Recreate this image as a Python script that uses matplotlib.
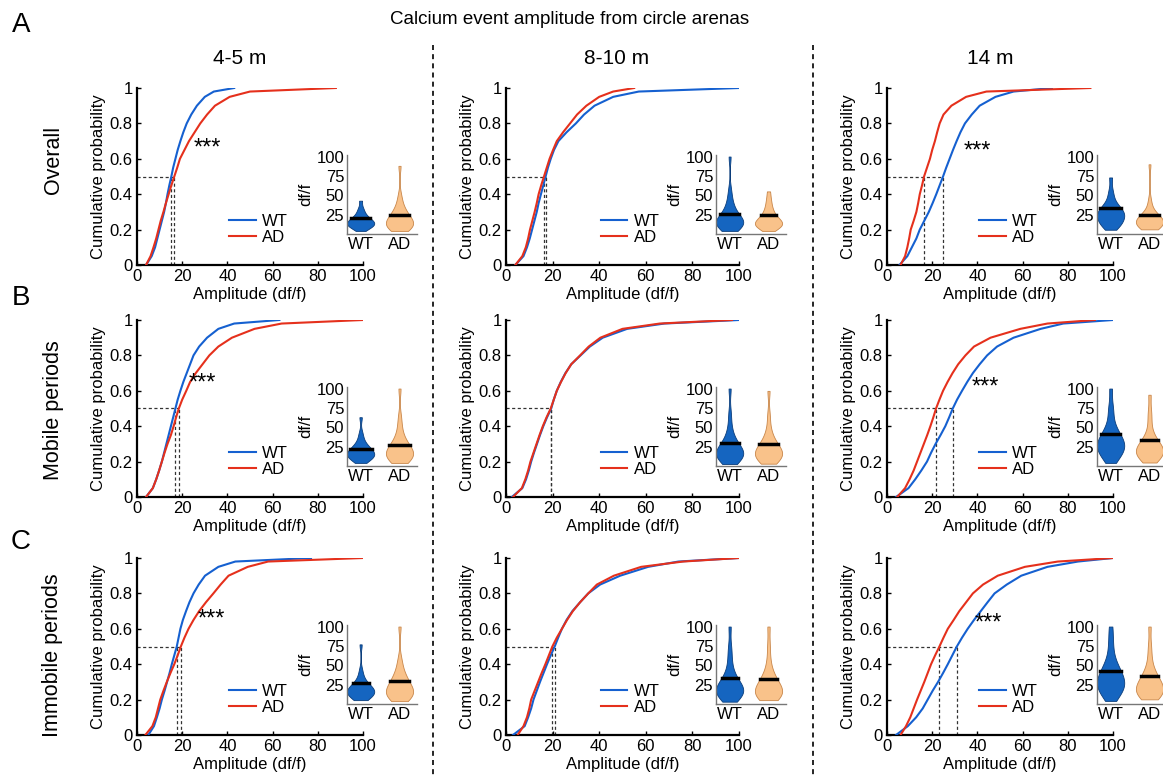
import numpy as np
import matplotlib.pyplot as plt
from matplotlib.lines import Line2D

plt.rcParams['font.family'] = ['Liberation Sans', 'DejaVu Sans']

W, H = 1163, 775

# cumulative probability levels at which the amplitudes were read
probs = [0, 0.05, 0.1, 0.15, 0.2, 0.25, 0.3, 0.35, 0.4, 0.45, 0.5,
         0.55, 0.6, 0.65, 0.7, 0.75, 0.8, 0.85, 0.9, 0.95, 0.98, 1.0]

ages = ['4-5 m', '8-10 m', '14 m']
conditions = ['Overall', 'Mobile periods', 'Immobile periods']
panel_letters = ['A', 'B', 'C']
groups = ['WT', 'AD']

# amplitude (df/f) quantiles, one list per age
overall_wt = [
    [4, 6.5, 8, 9, 10, 11, 12, 12.8, 13.5, 14.3, 15.2, 16, 17, 18, 19.2, 20.5, 22, 24, 26.5, 30, 34, 43],
    [4, 7.5, 9, 10.2, 11.2, 12.2, 13.2, 14, 15, 16, 17, 18, 19.2, 20.6, 22.5, 26, 30, 33.5, 38, 46, 57, 100],
    [5.5, 9, 11, 13, 14.5, 16.5, 18.5, 20.2, 21.8, 23.3, 24.8, 26.2, 27.7, 29.2, 30.8, 32.5, 34.5, 37.5, 41, 48, 56, 73],
]
overall_ad = [
    [4, 6, 7.3, 8.5, 9.5, 10.5, 11.7, 12.8, 14, 15.2, 16.5, 17.8, 19, 21, 23, 25.5, 28, 31, 34.5, 41, 50, 88],
    [4, 7, 8.5, 9.5, 10.3, 11.3, 12.3, 13.2, 14, 15.1, 16.3, 17.5, 18.7, 20.2, 21.8, 24.5, 27.5, 30.5, 34.5, 40, 46, 55],
    [6, 8, 9, 9.8, 10.5, 11.8, 13, 13.8, 14.5, 15.5, 16.4, 17.7, 19, 20, 21.2, 22.2, 23.3, 25, 28.5, 35, 44, 90],
]
mobile_wt = [
    [4, 7, 8.5, 9.8, 11, 12, 13, 14, 15, 16, 17, 18, 19.2, 20.5, 22, 23.5, 25, 27.5, 31, 36, 43, 63],
    [2.5, 7, 8.6, 9.8, 10.8, 12, 13.3, 14.6, 16, 17.6, 19.4, 20.5, 21.8, 23.5, 25.5, 28, 32, 36, 41.5, 52, 68, 100],
    [4, 9.5, 12.5, 15.2, 17.7, 19.5, 21.5, 23.7, 25.8, 27.5, 29.1, 31, 33.2, 35.5, 38, 41, 44.3, 48.7, 56, 68, 78, 100],
]
mobile_ad = [
    [4, 7, 8.5, 9.8, 11, 12.2, 13.5, 15, 16.2, 17.3, 18.5, 20, 21.8, 23.5, 26, 29, 32, 36, 42, 52, 64, 100],
    [3, 6.8, 8.3, 9.5, 10.5, 11.8, 13.1, 14.4, 15.8, 17.4, 19.2, 20.5, 21.8, 23.6, 25.6, 28, 31.8, 35.5, 40.5, 50, 66, 97],
    [4.5, 8, 10, 11.8, 13.3, 14.8, 16.3, 17.8, 19.2, 20.5, 21.7, 23.2, 24.8, 26.8, 29, 31.5, 34.7, 38.5, 45.8, 59, 71, 92],
]
immobile_wt = [
    [5, 7.5, 8.8, 10, 11, 12.2, 13.3, 14.4, 15.4, 16.5, 17.6, 18.4, 19.2, 20.3, 21.7, 23.2, 25, 27.3, 30.1, 36, 43.5, 77],
    [3, 8, 9.5, 10.8, 11.8, 13.2, 14.6, 16.1, 17.6, 19.2, 20.9, 22.4, 24, 26, 28.5, 31.8, 35.3, 40.4, 49, 61, 74, 100],
    [4, 9.2, 12.9, 15.8, 18, 20.2, 22.6, 24.8, 26.9, 28.9, 30.9, 33.2, 35.7, 38.5, 41.5, 44.5, 47.6, 53, 59.4, 71, 84.5, 100],
]
immobile_ad = [
    [3.7, 6.8, 8.3, 9.3, 10.3, 11.7, 13.2, 14.8, 16.5, 18, 19.4, 21, 22.8, 25, 27.5, 30.5, 33.8, 37, 40.5, 49, 58, 100],
    [5, 7.5, 9, 10, 10.8, 12.3, 13.8, 15.3, 16.9, 18.4, 19.9, 21.8, 24, 26.2, 28.7, 31.8, 35.3, 39, 46.3, 58, 76, 100],
    [6, 8.4, 10.3, 11.8, 13.3, 14.9, 16.5, 18, 19.5, 21.3, 23.2, 25, 26.9, 29.5, 32, 35, 38, 42.5, 49, 61, 75.6, 100],
]

# black bar in the violin insets (rows: condition, cols: age)
violin_bar_wt = [[21, 26, 33], [22, 30, 41], [27, 34, 42.5]]
violin_bar_ad = [[25, 25, 25], [27, 28.6, 34], [30, 32, 36]]

# significance marks (None = not significant)
significance = [['***', None, '***'], ['***', None, '***'], ['***', None, '***']]

prob_ticks = [0, 0.2, 0.4, 0.6, 0.8, 1]
prob_tick_labels = ['0', '0.2', '0.4', '0.6', '0.8', '1']
amp_ticks = [0, 20, 40, 60, 80, 100]
violin_ticks = [25, 50, 75, 100]

WT_LINE = '#1560d0'
AD_LINE = '#e5301c'
WT_FILL, WT_EDGE = '#1565c0', '#0b3d7a'
AD_FILL, AD_EDGE = '#f9c28a', '#c8864a'

# layout in pixels
col_x0 = [137, 506, 887]
col_w = [226, 233, 226]
row_top = [88, 320, 558]
row_h = 177
star_pos = [[(25, 0.66), None, (34, 0.64)],
            [(23, 0.64), None, (37.5, 0.62)],
            [(27, 0.655), None, (39, 0.63)]]

data_wt = [overall_wt, mobile_wt, immobile_wt]
data_ad = [overall_ad, mobile_ad, immobile_ad]


def px_axes(fig, left, top, width, height):
    return fig.add_axes([left / W, 1 - (top + height) / H, width / W, height / H])


fig = plt.figure(figsize=(W / 100, H / 100), dpi=100)

for r in range(3):
    for c in range(3):
        wt = np.array(data_wt[r][c])
        ad = np.array(data_ad[r][c])
        ax = px_axes(fig, col_x0[c], row_top[r], col_w[c], row_h)
        ax.plot(wt, probs, color=WT_LINE, lw=1.5, label='WT', zorder=3)
        ax.plot(ad, probs, color=AD_LINE, lw=1.5, label='AD', zorder=3)

        med_wt = np.interp(0.5, probs, wt)
        med_ad = np.interp(0.5, probs, ad)
        dash = dict(color='#333333', lw=0.9, ls=(0, (2.5, 2)), zorder=2)
        ax.plot([0, max(med_wt, med_ad)], [0.5, 0.5], **dash)
        ax.plot([med_wt, med_wt], [0, 0.5], **dash)
        ax.plot([med_ad, med_ad], [0, 0.5], **dash)

        ax.set_xlim(0, 100)
        ax.set_ylim(0, 1)
        ax.set_xticks(amp_ticks)
        ax.set_yticks(prob_ticks, prob_tick_labels)
        for s in ['top', 'right']:
            ax.spines[s].set_visible(False)
        for s in ['left', 'bottom']:
            ax.spines[s].set_linewidth(1.6)
        ax.tick_params(direction='in', length=3, width=1, labelsize=12, pad=3)
        ax.set_xlabel('Amplitude (df/f)', fontsize=12, labelpad=2)
        ax.set_ylabel('Cumulative probability', fontsize=12, labelpad=3)
        ax.legend(loc='center left', bbox_to_anchor=(0.37, 0.2), frameon=False,
                  fontsize=12, handlelength=1.6, handletextpad=0.4,
                  labelspacing=0.05, borderpad=0)
        if significance[r][c]:
            sx, sy = star_pos[r][c]
            ax.text(sx, sy, significance[r][c], fontsize=17, ha='left', va='center')

        # violin inset
        ins = px_axes(fig, col_x0[c] + 210, row_top[r] + 67, 70, 79)
        ins.patch.set_visible(False)
        vp = ins.violinplot([wt, ad], positions=[1, 2], widths=0.7, showextrema=False,
                            bw_method=0.42)
        bars = [violin_bar_wt[r][c], violin_bar_ad[r][c]]
        for pos, body, fc, ec, m in zip([1, 2], vp['bodies'], [WT_FILL, AD_FILL],
                                        [WT_EDGE, AD_EDGE], bars):
            body.set_facecolor(fc)
            body.set_edgecolor(ec)
            body.set_linewidth(0.6)
            body.set_alpha(1)
            v = body.get_paths()[0].vertices
            right = v[v[:, 0] > pos]
            order = np.argsort(right[:, 1])
            hw = np.interp(m, right[order, 1], right[order, 0]) - pos
            ins.plot([pos - hw, pos + hw], [m, m], color='black', lw=2.5, zorder=4)
        ins.set_xlim(0.65, 2.45)
        ins.set_ylim(0, 102)
        ins.set_yticks(violin_ticks)
        ins.set_xticks([1, 2], groups)
        ins.tick_params(length=0, labelsize=12, pad=2)
        for s in ['top', 'right']:
            ins.spines[s].set_visible(False)
        for s in ['left', 'bottom']:
            ins.spines[s].set_color('#777777')
            ins.spines[s].set_linewidth(1)
        ins.set_ylabel('df/f', fontsize=12, labelpad=2)

# column and row headings
col_centers = [240, 617, 990]
for c in range(3):
    fig.text(col_centers[c] / W, 1 - 58 / H, ages[c], fontsize=15, ha='center', va='center')
row_centers = [160, 410, 655]
for r in range(3):
    fig.text(53 / W, 1 - row_centers[r] / H, conditions[r], fontsize=15.5, rotation=90,
             ha='center', va='center')
letter_y = [25, 298, 542]
for r in range(3):
    fig.text(21 / W, 1 - letter_y[r] / H, panel_letters[r], fontsize=20, ha='center', va='center')

fig.text(570 / W, 1 - 20 / H, 'Calcium event amplitude from circle arenas', fontsize=13.5,
         ha='center', va='center')

for x in [433, 813]:
    fig.add_artist(Line2D([x / W, x / W], [1 - 45 / H, 0], transform=fig.transFigure,
                          color='black', lw=1.2, ls=(0, (3, 2.5))))

fig.savefig('out.png', dpi=100)
